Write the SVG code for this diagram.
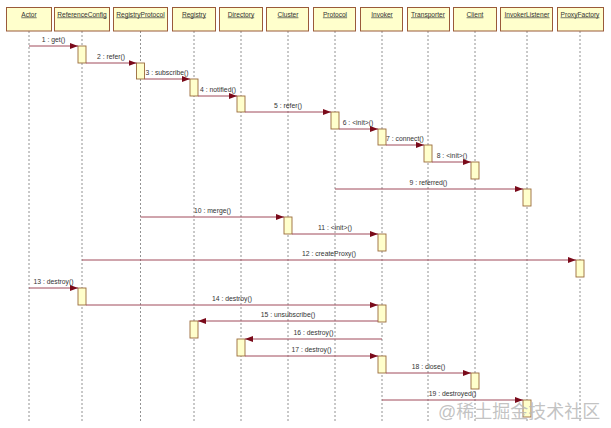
<svg xmlns="http://www.w3.org/2000/svg" width="611" height="428" viewBox="0 0 611 428">
<style>
.hd{fill:#ffffcc;stroke:#9a5a3a;stroke-width:1}
.ht{font-family:"Liberation Sans",Arial,sans-serif;font-size:6.6px;fill:#333;text-anchor:middle;text-decoration:underline}
.ll{stroke:#777;stroke-width:0.8;stroke-dasharray:2,2;fill:none}
.act{fill:#ffffcc;stroke:#9a6a3a;stroke-width:0.9}
.msg{stroke:#a04a5a;stroke-width:1;fill:none;marker-end:url(#ah)}
.lb{font-family:"Liberation Sans",Arial,sans-serif;font-size:6.8px;fill:#333;text-anchor:middle}
</style>
<defs>
<marker id="ah" markerUnits="userSpaceOnUse" markerWidth="8" markerHeight="6" refX="8" refY="3" orient="auto">
<path d="M0,0 L8,3 L0,6 z" fill="#7a0a1a"/>
</marker>
</defs>
<rect width="611" height="428" fill="#ffffff"/>
<g id="lifelines">
<line class="ll" x1="29" y1="31" x2="29" y2="421"/>
<line class="ll" x1="82" y1="31" x2="82" y2="421"/>
<line class="ll" x1="140.5" y1="31" x2="140.5" y2="421"/>
<line class="ll" x1="194" y1="31" x2="194" y2="421"/>
<line class="ll" x1="241" y1="31" x2="241" y2="421"/>
<line class="ll" x1="288" y1="31" x2="288" y2="421"/>
<line class="ll" x1="335" y1="31" x2="335" y2="421"/>
<line class="ll" x1="382" y1="31" x2="382" y2="421"/>
<line class="ll" x1="428" y1="31" x2="428" y2="421"/>
<line class="ll" x1="475" y1="31" x2="475" y2="421"/>
<line class="ll" x1="527" y1="31" x2="527" y2="421"/>
<line class="ll" x1="580" y1="31" x2="580" y2="421"/>
</g>
<g id="Actor"><rect class="hd" x="6.5" y="7.5" width="45" height="23.5"/><text class="ht" x="29" y="16.5">Actor</text></g>
<g id="ReferenceConfig"><rect class="hd" x="54.5" y="7.5" width="55" height="23.5"/><text class="ht" x="82" y="16.5">ReferenceConfig</text></g>
<g id="RegistryProtocol"><rect class="hd" x="113.5" y="7.5" width="54" height="23.5"/><text class="ht" x="140.5" y="16.5">RegistryProtocol</text></g>
<g id="Registry"><rect class="hd" x="172.5" y="7.5" width="43" height="23.5"/><text class="ht" x="194" y="16.5">Registry</text></g>
<g id="Directory"><rect class="hd" x="219.5" y="7.5" width="43" height="23.5"/><text class="ht" x="241" y="16.5">Directory</text></g>
<g id="Cluster"><rect class="hd" x="266.5" y="7.5" width="42" height="23.5"/><text class="ht" x="288" y="16.5">Cluster</text></g>
<g id="Protocol"><rect class="hd" x="313.5" y="7.5" width="42" height="23.5"/><text class="ht" x="335" y="16.5">Protocol</text></g>
<g id="Invoker"><rect class="hd" x="360.5" y="7.5" width="42" height="23.5"/><text class="ht" x="382" y="16.5">Invoker</text></g>
<g id="Transporter"><rect class="hd" x="407.5" y="7.5" width="42" height="23.5"/><text class="ht" x="428" y="16.5">Transporter</text></g>
<g id="Client"><rect class="hd" x="453.5" y="7.5" width="43" height="23.5"/><text class="ht" x="475" y="16.5">Client</text></g>
<g id="InvokerListener"><rect class="hd" x="500.5" y="7.5" width="52" height="23.5"/><text class="ht" x="527" y="16.5">InvokerListener</text></g>
<g id="ProxyFactory"><rect class="hd" x="557.5" y="7.5" width="46" height="23.5"/><text class="ht" x="580" y="16.5">ProxyFactory</text></g>
<g id="activations">
<rect class="act" x="78" y="46" width="8" height="17"/>
<rect class="act" x="136.5" y="63" width="8" height="16"/>
<rect class="act" x="190" y="79" width="8" height="17"/>
<rect class="act" x="237" y="96" width="8" height="16"/>
<rect class="act" x="331" y="112" width="8" height="17"/>
<rect class="act" x="378" y="129" width="8" height="16"/>
<rect class="act" x="424" y="145" width="8" height="17"/>
<rect class="act" x="471" y="162" width="8" height="17"/>
<rect class="act" x="523" y="189" width="8" height="17"/>
<rect class="act" x="284" y="217" width="8" height="17"/>
<rect class="act" x="378" y="234" width="8" height="17"/>
<rect class="act" x="576" y="260" width="8" height="17"/>
<rect class="act" x="78" y="288" width="8" height="17"/>
<rect class="act" x="378" y="305" width="8" height="17"/>
<rect class="act" x="190" y="321" width="8" height="17"/>
<rect class="act" x="237" y="339" width="8" height="17"/>
<rect class="act" x="378" y="356" width="8" height="17"/>
<rect class="act" x="471" y="373" width="8" height="16"/>
<rect class="act" x="523" y="400" width="8" height="17"/>
</g>
<g id="connectors">
<line class="msg" x1="29" y1="46" x2="78" y2="46"/><text class="lb" x="53.5" y="42">1 : get()</text>
<line class="msg" x1="86" y1="63" x2="136.5" y2="63"/><text class="lb" x="111" y="59">2 : refer()</text>
<line class="msg" x1="144.5" y1="79" x2="190" y2="79"/><text class="lb" x="167" y="75">3 : subscribe()</text>
<line class="msg" x1="198" y1="96" x2="237" y2="96"/><text class="lb" x="218" y="92">4 : notified()</text>
<line class="msg" x1="245" y1="112" x2="331" y2="112"/><text class="lb" x="288" y="108">5 : refer()</text>
<line class="msg" x1="339" y1="129" x2="378" y2="129"/><text class="lb" x="358" y="125">6 : &lt;init&gt;()</text>
<line class="msg" x1="386" y1="145" x2="424" y2="145"/><text class="lb" x="405" y="141">7 : connect()</text>
<line class="msg" x1="432" y1="162" x2="471" y2="162"/><text class="lb" x="452" y="158">8 : &lt;init&gt;()</text>
<line class="msg" x1="335" y1="189" x2="523" y2="189"/><text class="lb" x="428.5" y="185">9 : referred()</text>
<line class="msg" x1="140.5" y1="217" x2="284" y2="217"/><text class="lb" x="212.5" y="213">10 : merge()</text>
<line class="msg" x1="292" y1="234" x2="378" y2="234"/><text class="lb" x="335" y="230">11 : &lt;init&gt;()</text>
<line class="msg" x1="82" y1="260" x2="576" y2="260"/><text class="lb" x="329" y="256">12 : createProxy()</text>
<line class="msg" x1="29" y1="288" x2="78" y2="288"/><text class="lb" x="53.5" y="284">13 : destroy()</text>
<line class="msg" x1="86" y1="305" x2="378" y2="305"/><text class="lb" x="232" y="301">14 : destroy()</text>
<line class="msg" x1="378" y1="321" x2="198" y2="321"/><text class="lb" x="288" y="317">15 : unsubscribe()</text>
<line class="msg" x1="382" y1="339" x2="245" y2="339"/><text class="lb" x="313.5" y="335">16 : destroy()</text>
<line class="msg" x1="245" y1="356" x2="378" y2="356"/><text class="lb" x="311.5" y="352">17 : destroy()</text>
<line class="msg" x1="386" y1="373" x2="471" y2="373"/><text class="lb" x="428.5" y="369">18 : close()</text>
<line class="msg" x1="382" y1="400" x2="523" y2="400"/><text class="lb" x="452.5" y="396">19 : destroyed()</text>
</g>
<text x="438" y="418" font-family="'Liberation Sans','Noto Sans CJK SC',sans-serif" font-size="18" fill="#b8b8b8" fill-opacity="0.85">@稀土掘金技术社区</text>
</svg>
